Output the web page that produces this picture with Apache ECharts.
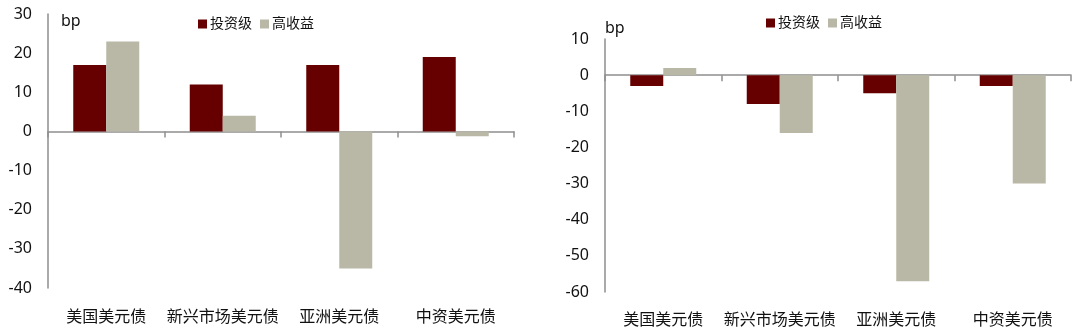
<!DOCTYPE html>
<html>
<head>
<meta charset="utf-8">
<script src="https://cdn.jsdelivr.net/npm/echarts@6/dist/echarts.min.js"></script>
<style>
html,body{margin:0;padding:0;background:#fff;}
#chart{width:1080px;height:336px;}
</style>
</head>
<body>
<div id="chart"></div>
<script>
const categories = ['美国美元债', '新兴市场美元债', '亚洲美元债', '中资美元债'];
const seriesNames = ['投资级', '高收益'];
// left panel
const leftIG = [17, 12, 17, 19];
const leftHY = [23, 4, -35, -1.2];
// right panel
const rightIG = [-3, -8, -5, -3];
const rightHY = [2, -16, -57, -30];
const unitLabel = 'bp';

const FONT = '"Noto Sans", "Noto Sans CJK SC", sans-serif';
const RED = '#660000';
const GRAY = '#b9b8a7';
const AXIS = '#8e8e8e';
const TXT = '#111111';

function labelAxis(gi, margin) {
  return {
    type: 'category', gridIndex: gi, data: categories, position: 'bottom',
    axisLine: { show: false, onZero: false }, axisTick: { show: false },
    axisLabel: { fontSize: 16, color: TXT, fontFamily: FONT, margin: margin, interval: 0 }
  };
}
function zeroAxis(gi) {
  return {
    type: 'category', gridIndex: gi, data: categories,
    axisLine: { show: true, onZero: true, lineStyle: { color: AXIS, width: 1.5 } },
    axisTick: { show: true, inside: true, length: 6, lineStyle: { color: AXIS, width: 1.5 } },
    axisLabel: { show: false }
  };
}
function valAxis(gi, min, max) {
  return {
    type: 'value', gridIndex: gi, min: min, max: max, interval: 10,
    axisLine: { show: true, onZero: false, lineStyle: { color: AXIS, width: 1.5 } },
    axisTick: { show: false }, splitLine: { show: false },
    axisLabel: { fontSize: 16, color: TXT, fontFamily: FONT, margin: 16 }
  };
}
function bar(name, data, xi, yi, color) {
  return {
    name: name, type: 'bar', xAxisIndex: xi, yAxisIndex: yi, data: data,
    barWidth: 33, barGap: '0%', itemStyle: { color: color }
  };
}
function legend(left, top) {
  return {
    left: left, top: top, data: seriesNames, itemWidth: 9, itemHeight: 9, itemGap: 8,
    icon: 'rect', textStyle: { fontSize: 14, color: TXT, fontFamily: FONT, padding: [0, 0, 0, -2] }
  };
}

const chart = echarts.init(document.getElementById('chart'), null, { renderer: 'canvas' });
chart.setOption({
  animation: false,
  backgroundColor: '#fff',
  grid: [
    { left: 48, top: 14, width: 466, height: 274 },
    { left: 605, top: 39, width: 466, height: 253 }
  ],
  legend: [legend(193, 12), legend(761, 11)],
  xAxis: [labelAxis(0, 21), zeroAxis(0), labelAxis(1, 20), zeroAxis(1)],
  yAxis: [valAxis(0, -40, 30), valAxis(1, -60, 10)],
  series: [
    bar(seriesNames[0], leftIG, 0, 0, RED),
    bar(seriesNames[1], leftHY, 0, 0, GRAY),
    bar(seriesNames[0], rightIG, 2, 1, RED),
    bar(seriesNames[1], rightHY, 2, 1, GRAY)
  ],
  graphic: [
    { type: 'text', left: 61, top: 13, style: { text: unitLabel, fontSize: 16, fill: TXT, fontFamily: FONT } },
    { type: 'text', left: 605, top: 20, style: { text: unitLabel, fontSize: 16, fill: TXT, fontFamily: FONT } }
  ]
});
</script>
</body>
</html>
